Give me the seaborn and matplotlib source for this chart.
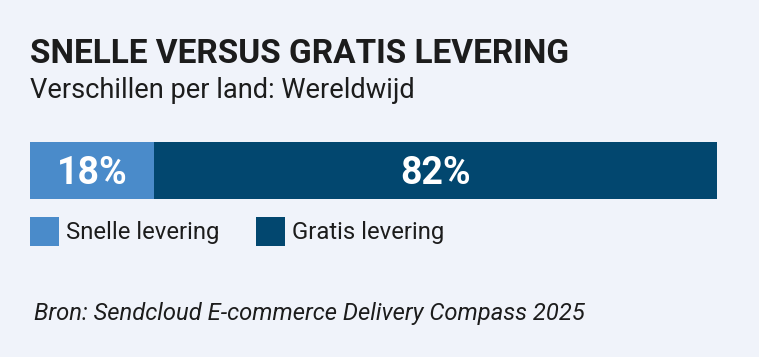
import matplotlib
matplotlib.use("Agg")
import matplotlib.pyplot as plt
import seaborn as sns
import pandas as pd
from matplotlib.patches import Patch

categories = ["Snelle levering", "Gratis levering"]
shares = [18, 82]
colors = ["#4a8bca", "#02476f"]
region = "Wereldwijd"

bg = "#f0f3fa"
ink = "#1c1c1c"
sns.set_theme(style="white")
plt.rcParams["font.family"] = ["Roboto", "DejaVu Sans"]

W, H = 759, 357
fig = plt.figure(figsize=(W / 100, H / 100), dpi=100, facecolor=bg)

def fx(px):
    return px / W

def fy(py):
    return 1 - py / H

ax = fig.add_axes([fx(30), fy(199), fx(687), 57 / H])
ax.set_facecolor(bg)

# stacked bar: draw cumulative totals back to front
df = pd.DataFrame({"land": region, "type": categories, "share": shares})
df["cum"] = df["share"].cumsum()
for i in reversed(range(len(df))):
    sns.barplot(data=df.iloc[[i]], x="cum", y="land", color=colors[i],
                width=1, saturation=1, linewidth=0, ax=ax, orient="h")

ax.set_xlim(0, 100)
ax.set_ylim(0.5, -0.5)
ax.axis("off")

left = 0
for s in shares:
    ax.text(left + s / 2, 0.23, f"{s}%", ha="center", va="baseline",
            color="white", fontsize=27, fontweight="bold")
    left += s

fig.text(fx(30), fy(63), "SNELLE VERSUS GRATIS LEVERING", fontsize=24,
         fontweight="bold", color=ink, va="baseline")
fig.text(fx(30), fy(98), "Verschillen per land: " + region, fontsize=19.6,
         color=ink, va="baseline")
fig.text(fx(34), fy(320), "Bron: Sendcloud E-commerce Delivery Compass 2025",
         fontsize=17.1, style="italic", color=ink, va="baseline")

handles = [Patch(facecolor=c, edgecolor="none") for c in colors]
fs = 17.2
em = fs * 100 / 72
# legend box height = fs*(h - 0.35*(h - 0.7)); solve for a 29px square
hh = (29 / em - 0.245) / 0.65
fig.legend(handles, categories, loc="upper left",
           bbox_to_anchor=(fx(30), fy(217)), ncol=2, frameon=False,
           borderpad=0, borderaxespad=0,
           handlelength=29 / em, handleheight=hh,
           handletextpad=7 / em, columnspacing=37 / em,
           labelcolor=ink, prop={"size": fs})

fig.savefig("out.png", dpi=100, facecolor=bg)
